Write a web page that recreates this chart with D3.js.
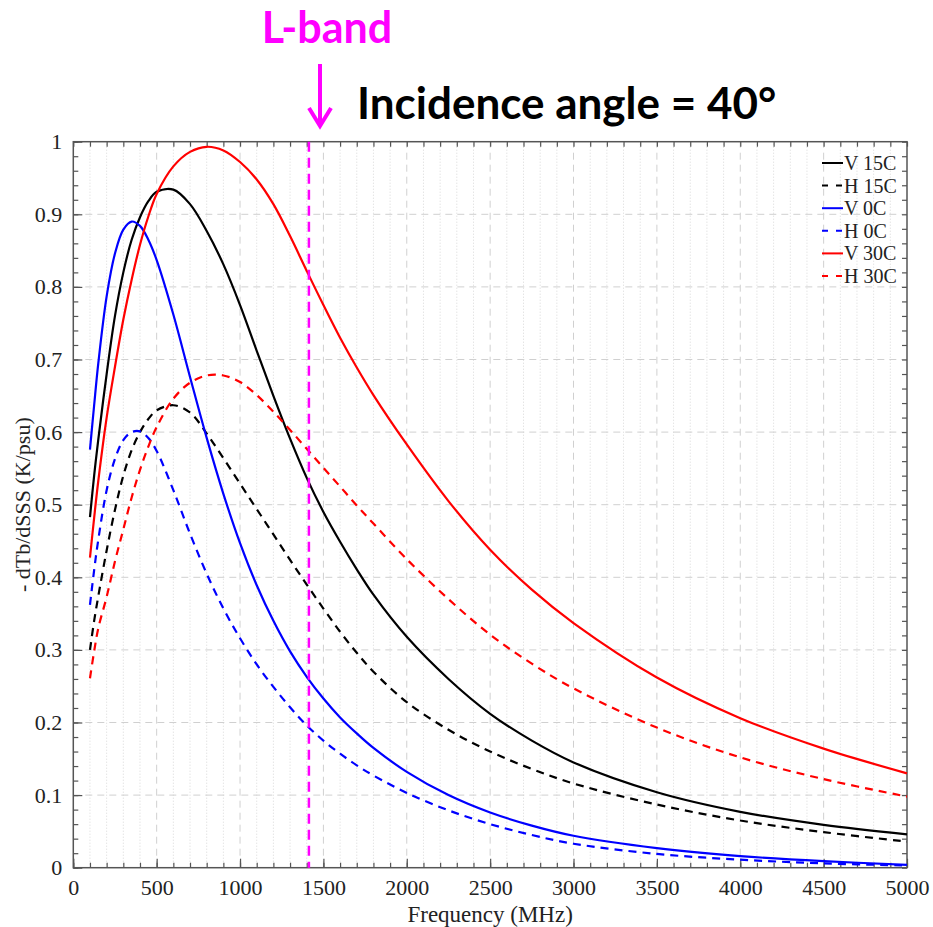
<!DOCTYPE html>
<head>
<meta charset="utf-8">
<script src="https://d3js.org/d3.v7.min.js"></script>
<title>dTb/dSSS vs frequency</title>
<style>
  body { margin: 0; background: #fff; }
</style>
</head>
<body>
<div id="graph_container"></div>
<script>
// frequency grid (MHz) and curve values
const freqs = [100,125,150,200,250,300,350,400,450,500,600,700,800,900,1000,1100,1200,1300,1400,1500,1600,1700,1800,2000,2250,2500,2750,3000,3500,4000,4500,5000];
const v15 = [0.483,0.54,0.59,0.68,0.76,0.82,0.865,0.896,0.918,0.931,0.934,0.914,0.877,0.831,0.775,0.712,0.650,0.591,0.537,0.490,0.449,0.411,0.376,0.318,0.260,0.212,0.175,0.145,0.104,0.077,0.059,0.046];
const h15 = [0.300,0.34,0.374,0.437,0.493,0.54,0.575,0.600,0.618,0.630,0.637,0.627,0.598,0.564,0.529,0.494,0.459,0.424,0.390,0.357,0.325,0.296,0.270,0.228,0.190,0.160,0.136,0.116,0.087,0.065,0.049,0.036];
const v0 = [0.576,0.637,0.695,0.787,0.846,0.879,0.890,0.884,0.865,0.837,0.762,0.676,0.592,0.515,0.447,0.389,0.340,0.298,0.263,0.233,0.207,0.185,0.165,0.132,0.100,0.076,0.058,0.044,0.027,0.016,0.009,0.004];
const h0 = [0.362,0.41,0.452,0.52,0.563,0.589,0.600,0.601,0.592,0.574,0.520,0.460,0.405,0.357,0.316,0.280,0.249,0.221,0.196,0.175,0.157,0.141,0.127,0.103,0.079,0.060,0.045,0.033,0.019,0.011,0.006,0.003];
const v30 = [0.427,0.482,0.533,0.62,0.69,0.755,0.81,0.858,0.897,0.928,0.966,0.986,0.993,0.988,0.972,0.948,0.914,0.870,0.822,0.775,0.730,0.689,0.651,0.583,0.505,0.438,0.383,0.337,0.262,0.206,0.164,0.130];
const h30 = [0.261,0.298,0.33,0.373,0.422,0.466,0.51,0.548,0.58,0.607,0.646,0.668,0.678,0.678,0.669,0.651,0.628,0.603,0.577,0.551,0.525,0.499,0.474,0.425,0.370,0.321,0.281,0.247,0.193,0.152,0.122,0.098];

const seriesNames = ['V 15C','H 15C','V 0C','H 0C','V 30C','H 30C'];
const seriesColors = ['#000000','#000000','#0000ff','#0000ff','#ff0000','#ff0000'];
const seriesDashed = [false,true,false,true,false,true];
const seriesValues = [v15,h15,v0,h0,v30,h30];

const xTicks = [0,500,1000,1500,2000,2500,3000,3500,4000,4500,5000];
const yTicks = [0,0.1,0.2,0.3,0.4,0.5,0.6,0.7,0.8,0.9,1];
const lbandFreq = 1413;

const W = 933, H = 927;
const margin = {left: 73.3, right: 26, top: 141.7, bottom: 59.3};
const serif = '"Liberation Serif", "Times New Roman", serif';
const sans = 'Lato, "Open Sans", sans-serif';

const svg = d3.select('#graph_container').append('svg')
    .attr('width', W).attr('height', H)
    .style('font-family', serif);

const x = d3.scaleLinear().domain([0,5000]).range([margin.left, W - margin.right]);
const y = d3.scaleLinear().domain([0,1]).range([H - margin.bottom, margin.top]);

// grid
const grid = svg.append('g');
grid.selectAll('line.vminor')
    .data(d3.range(100, 5000, 100).filter(d => d % 500 != 0))
    .enter().append('line')
    .attr('x1', d => x(d)).attr('x2', d => x(d))
    .attr('y1', y(0)).attr('y2', y(1))
    .style('stroke', '#d8d8d8').style('stroke-width', 1).style('stroke-dasharray', '1,2');
grid.selectAll('line.vmajor')
    .data(xTicks.slice(1, -1))
    .enter().append('line')
    .attr('x1', d => x(d)).attr('x2', d => x(d))
    .attr('y1', y(0)).attr('y2', y(1))
    .style('stroke', '#d0d0d0').style('stroke-width', 1).style('stroke-dasharray', '7,5');
grid.selectAll('line.h')
    .data(yTicks.slice(1, -1))
    .enter().append('line')
    .attr('x1', x(0)).attr('x2', x(5000))
    .attr('y1', d => y(d)).attr('y2', d => y(d))
    .style('stroke', '#d0d0d0').style('stroke-width', 1).style('stroke-dasharray', '7,5');

// axes, inward ticks on all four sides
const axisColor = '#555';
function styleAxis(g) {
    g.select('.domain').remove();
    g.selectAll('line').style('stroke', axisColor).style('stroke-width', 1.2);
}
function styleLabels(g) {
    g.attr('font-size', null).attr('font-family', null);
    g.selectAll('text').style('font-size', '22px').style('fill', '#222').style('font-family', serif);
}
const xMinor = d3.range(0, 5001, 100);
const yMinor = d3.range(0, 1.0001, 0.02);

svg.append('g').attr('transform', `translate(0,${y(0)})`)
    .call(d3.axisBottom(x).tickValues(xMinor).tickSize(-5).tickFormat(''))
    .call(styleAxis);
svg.append('g').attr('transform', `translate(0,${y(0)})`)
    .call(d3.axisBottom(x).tickValues(xTicks).tickSize(-9).tickPadding(12).tickFormat(d3.format('d')))
    .call(styleAxis).call(styleLabels);
svg.append('g').attr('transform', `translate(0,${y(1)})`)
    .call(d3.axisTop(x).tickValues(xMinor).tickSize(-5).tickFormat(''))
    .call(styleAxis);
svg.append('g').attr('transform', `translate(${x(0)},0)`)
    .call(d3.axisLeft(y).tickValues(yMinor).tickSize(-5).tickFormat(''))
    .call(styleAxis);
svg.append('g').attr('transform', `translate(${x(0)},0)`)
    .call(d3.axisLeft(y).tickValues(yTicks).tickSize(-9).tickPadding(11)
        .tickFormat(d => d == 0 || d == 1 ? d3.format('d')(d) : d3.format('.1f')(d)))
    .call(styleAxis).call(styleLabels);
svg.append('g').attr('transform', `translate(${x(5000)},0)`)
    .call(d3.axisRight(y).tickValues(yMinor).tickSize(-5).tickFormat(''))
    .call(styleAxis);

svg.append('rect')
    .attr('x', x(0)).attr('y', y(1))
    .attr('width', x(5000) - x(0)).attr('height', y(0) - y(1))
    .style('fill', 'none').style('stroke', axisColor).style('stroke-width', 1.5);

// curves
const line = d3.line()
    .x((d, i) => x(freqs[i]))
    .y(d => y(d))
    .curve(d3.curveCatmullRom.alpha(0.5));

seriesValues.forEach(function(vals, k) {
    svg.append('path')
        .datum(vals)
        .attr('d', line)
        .style('fill', 'none')
        .style('stroke', seriesColors[k])
        .style('stroke-width', 2.2)
        .style('stroke-dasharray', seriesDashed[k] ? '8,6' : null);
});

// L-band marker
svg.append('line')
    .attr('x1', x(lbandFreq)).attr('x2', x(lbandFreq))
    .attr('y1', y(1)).attr('y2', y(0))
    .style('stroke', '#ff00ff').style('stroke-width', 2.5).style('stroke-dasharray', '10,6');

// legend
const legend = svg.append('g').attr('transform', 'translate(822,163)');
seriesNames.forEach(function(name, k) {
    const row = legend.append('g').attr('transform', `translate(0,${k * 22.6})`);
    row.append('line')
        .attr('x1', 0).attr('x2', 21).attr('y1', 0).attr('y2', 0)
        .style('stroke', seriesColors[k]).style('stroke-width', 2)
        .style('stroke-dasharray', seriesDashed[k] ? '6,8' : null);
    row.append('text')
        .attr('x', 22).attr('y', 7)
        .style('font-size', '20px').style('fill', '#222')
        .text(name);
});

// axis titles
svg.append('text')
    .attr('x', (x(0) + x(5000)) / 2).attr('y', 922)
    .style('text-anchor', 'middle').style('font-size', '23px').style('fill', '#222')
    .text('Frequency (MHz)');
svg.append('text')
    .attr('transform', `translate(30,${(y(0) + y(1)) / 2}) rotate(-90)`)
    .style('text-anchor', 'middle').style('font-size', '22px').style('fill', '#222')
    .text('- dTb/dSSS (K/psu)');

// annotations
svg.append('text')
    .attr('x', 327).attr('y', 43)
    .style('text-anchor', 'middle')
    .style('font-family', sans).style('font-weight', 'bold')
    .style('font-size', '43px').style('fill', '#ff00ff')
    .text('L-band');
svg.append('line')
    .attr('x1', 320).attr('x2', 320).attr('y1', 64).attr('y2', 124)
    .style('stroke', '#ff00ff').style('stroke-width', 4);
svg.append('path')
    .attr('d', 'M309,108 L320,126 L331,108')
    .style('fill', 'none').style('stroke', '#ff00ff').style('stroke-width', 4);
svg.append('text')
    .attr('x', 357).attr('y', 119)
    .style('font-family', sans).style('font-weight', 'bold')
    .style('font-size', '44px').style('fill', '#000')
    .text('Incidence angle = 40°');
</script>
</body>
